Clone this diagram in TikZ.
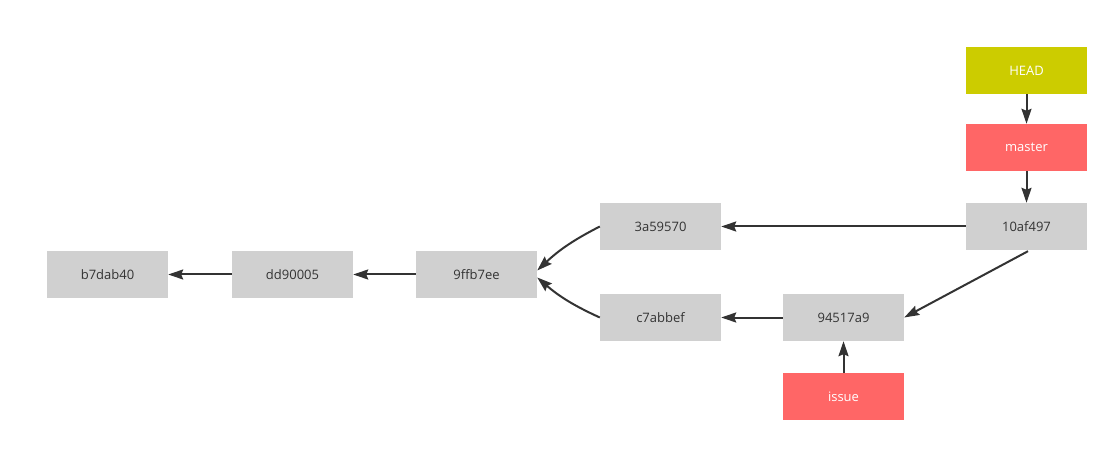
\documentclass[tikz,border=0pt]{standalone}
\usepackage{fontspec}
\setmainfont{Open Sans}
\usepackage{tikz}
\usetikzlibrary{arrows.meta}

\definecolor{commitgray}{HTML}{D0D0D0}
\definecolor{branchred}{HTML}{FF6666}
\definecolor{headyellow}{HTML}{CCCC00}
\definecolor{inkdark}{HTML}{333333}

\begin{document}
\begin{tikzpicture}[x=1pt, y=1pt,
    box/.style={minimum width=121pt, minimum height=47pt, inner sep=0pt,
      font=\fontsize{13}{15}\selectfont},
    commit/.style={box, fill=commitgray, text=inkdark},
    branch/.style={box, fill=branchred, text=white},
    headref/.style={box, fill=headyellow, text=white},
    link/.style={-{Stealth[length=15pt,width=10pt,inset=2pt]}, line width=2pt, draw=inkdark}]

    \useasboundingbox (0,0) rectangle (1118,450);

    % Commits
    \node[commit] (b7dab40) at (107.5,175.5) {b7dab40};
    \node[commit] (dd90005) at (292.5,175.5) {dd90005};
    \node[commit] (9ffb7ee) at (476.5,175.5) {9ffb7ee};
    \node[commit] (3a59570) at (660.5,223.5) {3a59570};
    \node[commit] (c7abbef) at (660.5,132.5) {c7abbef};
    \node[commit] (94517a9) at (843.5,132.5) {94517a9};
    \node[commit] (10af497) at (1026.5,223.5) {10af497};

    % Branches and HEAD
    \node[branch] (issue) at (843.5,53.5) {issue};
    \node[branch] (master) at (1026.5,302.5) {master};
    \node[headref] (HEAD) at (1026.5,379.5) {HEAD};

    % Parent links, common history
    \draw[link] (dd90005.west) -- (b7dab40.east);
    \draw[link] (9ffb7ee.west) -- (dd90005.east);

    % Upper line
    \draw[link] (3a59570.west) to[bend right=8] ([yshift=4pt]9ffb7ee.east);
    \draw[link] (10af497.west) -- (3a59570.east);

    % Lower line
    \draw[link] (c7abbef.west) to[bend left=8] ([yshift=-3pt]9ffb7ee.east);
    \draw[link] (94517a9.west) -- (c7abbef.east);
    \draw[link] ([xshift=1.5pt,yshift=-1pt]10af497.south) -- (94517a9.east);

    % References
    \draw[link] (issue.north) -- (94517a9.south);
    \draw[link] (HEAD.south) -- (master.north);
    \draw[link] (master.south) -- (10af497.north);

\end{tikzpicture}
\end{document}
